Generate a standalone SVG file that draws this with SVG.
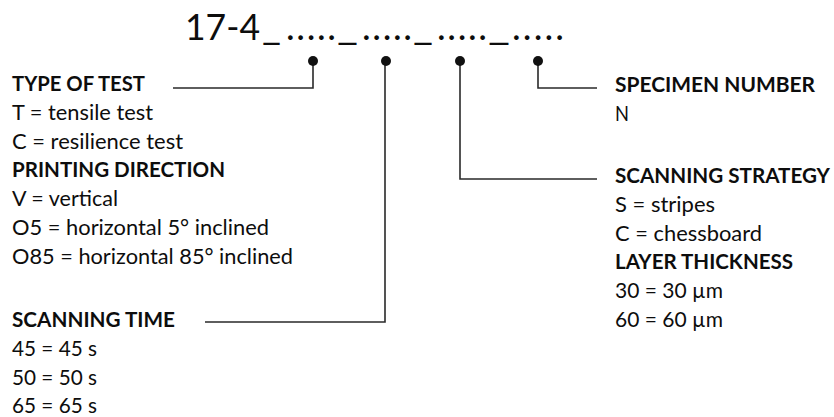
<svg xmlns="http://www.w3.org/2000/svg" width="834" height="417" viewBox="0 0 834 417">
<style>
text{font-family:Lato,"Liberation Sans",sans-serif;fill:#0d0d0d;font-size:21px}
.b{font-weight:bold}
.t{font-size:37px}
.ln{fill:none;stroke:#2a2a2a;stroke-width:1.6}
.dot{fill:#111}
</style>
<rect width="834" height="417" fill="#fff"/>
<g id="title">
<text class="t" x="185" y="40" textLength="75" lengthAdjust="spacingAndGlyphs">17-4</text>
<text class="t" x="262" y="40" textLength="19" lengthAdjust="spacingAndGlyphs">_</text>
<text class="t" x="286" y="40" textLength="50" lengthAdjust="spacing">.....</text>
<text class="t" x="337" y="40" textLength="21" lengthAdjust="spacingAndGlyphs">_</text>
<text class="t" x="362" y="40" textLength="50" lengthAdjust="spacing">.....</text>
<text class="t" x="413" y="40" textLength="20" lengthAdjust="spacingAndGlyphs">_</text>
<text class="t" x="437" y="40" textLength="50" lengthAdjust="spacing">.....</text>
<text class="t" x="488" y="40" textLength="22" lengthAdjust="spacingAndGlyphs">_</text>
<text class="t" x="512" y="40" textLength="52" lengthAdjust="spacing">.....</text>
</g>
<g id="connectors">
<path class="ln" d="M173 88H313V61"/>
<path class="ln" d="M205 322H385V61"/>
<path class="ln" d="M597 179H460V61"/>
<path class="ln" d="M597 88H538V61"/>
<circle class="dot" cx="313" cy="61" r="5"/>
<circle class="dot" cx="386" cy="61" r="5"/>
<circle class="dot" cx="460" cy="61" r="5"/>
<circle class="dot" cx="538" cy="61" r="5"/>
</g>
<g id="type-of-test">
<text class="b" x="12" y="91" textLength="133" lengthAdjust="spacingAndGlyphs">TYPE OF TEST</text>
<text x="12" y="120" textLength="141" lengthAdjust="spacingAndGlyphs">T = tensile test</text>
<text x="12" y="149" textLength="171" lengthAdjust="spacingAndGlyphs">C = resilience test</text>
</g>
<g id="printing-direction">
<text class="b" x="12" y="177" textLength="213" lengthAdjust="spacingAndGlyphs">PRINTING DIRECTION</text>
<text x="12" y="206" textLength="106" lengthAdjust="spacingAndGlyphs">V = vertical</text>
<text x="12" y="235" textLength="257" lengthAdjust="spacingAndGlyphs">O5 = horizontal 5° inclined</text>
<text x="12" y="264" textLength="281" lengthAdjust="spacingAndGlyphs">O85 = horizontal 85° inclined</text>
</g>
<g id="scanning-time">
<text class="b" x="12" y="327" textLength="163" lengthAdjust="spacingAndGlyphs">SCANNING TIME</text>
<text x="12" y="356" textLength="85" lengthAdjust="spacingAndGlyphs">45 = 45 s</text>
<text x="12" y="385" textLength="85" lengthAdjust="spacingAndGlyphs">50 = 50 s</text>
<text x="12" y="413" textLength="85" lengthAdjust="spacingAndGlyphs">65 = 65 s</text>
</g>
<g id="specimen-number">
<text class="b" x="615" y="92" textLength="200" lengthAdjust="spacingAndGlyphs">SPECIMEN NUMBER</text>
<text x="615" y="121" textLength="14" lengthAdjust="spacingAndGlyphs">N</text>
</g>
<g id="scanning-strategy">
<text class="b" x="615" y="183" textLength="215" lengthAdjust="spacingAndGlyphs">SCANNING STRATEGY</text>
<text x="615" y="212" textLength="100" lengthAdjust="spacingAndGlyphs">S = stripes</text>
<text x="615" y="241" textLength="147" lengthAdjust="spacingAndGlyphs">C = chessboard</text>
</g>
<g id="layer-thickness">
<text class="b" x="615" y="269" textLength="178" lengthAdjust="spacingAndGlyphs">LAYER THICKNESS</text>
<text x="615" y="298" textLength="108" lengthAdjust="spacingAndGlyphs">30 = 30 µm</text>
<text x="615" y="327" textLength="108" lengthAdjust="spacingAndGlyphs">60 = 60 µm</text>
</g>
</svg>
